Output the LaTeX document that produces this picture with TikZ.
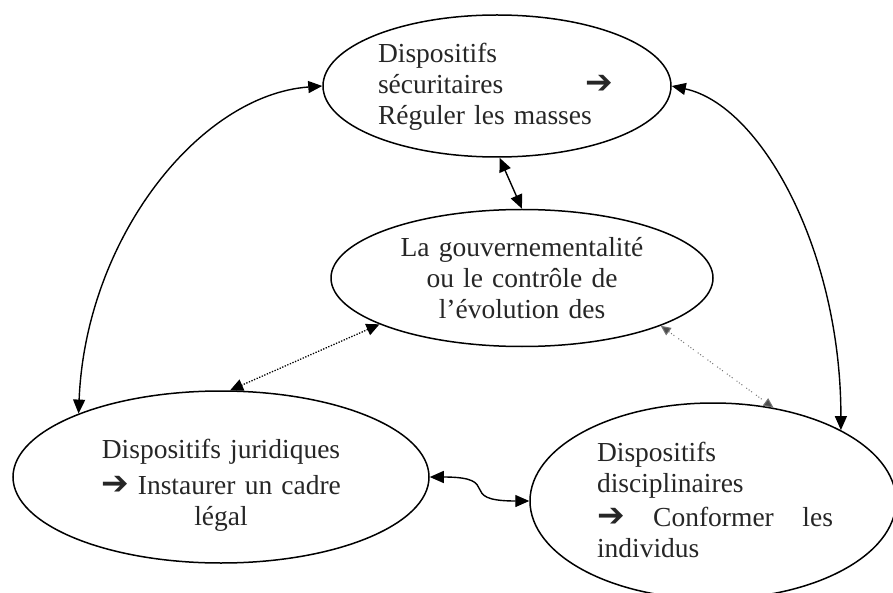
\documentclass[tikz,border=0pt]{standalone}
\usepackage{fontspec}
\setmainfont{Liberation Serif}
\newfontfamily\arrowfont{DejaVu Sans}
\newcommand{\bigarr}{{\arrowfont\fontsize{33}{31}\selectfont ➔}}
\usetikzlibrary{arrows.meta,shapes.geometric}
\begin{document}
\begin{tikzpicture}[x=1pt,y=-1pt,
  bubble/.style={draw, ellipse, line width=1.5pt, inner sep=0pt},
  lbl/.style={inner sep=0pt, text=black!85, font=\fontsize{27.5}{31}\selectfont},
  link/.style={line width=1.4pt, {Triangle[length=14pt,width=12pt]}-{Triangle[length=14pt,width=12pt]}},
  dotlink/.style={line width=1.3pt, dash pattern=on 1.3pt off 1.5pt, {Triangle[length=13pt,width=12pt]}-{Triangle[length=13pt,width=12pt]}},
  graylink/.style={line width=1pt, draw=black!55, dash pattern=on 1pt off 2pt on 1pt off 2pt on 1pt off 5pt, {Triangle[length=10pt,width=9pt,fill=black!70]}-{Triangle[length=10pt,width=9pt,fill=black!70]}}
]
\useasboundingbox (0,0) rectangle (893,593);
\clip (0,0) rectangle (893,593);

% ellipses
\node[bubble, minimum width=348pt, minimum height=142pt] (T) at (497,86) {};
\node[bubble, minimum width=382pt, minimum height=137pt] (C) at (522,278) {};
\node[bubble, minimum width=416pt, minimum height=172pt] (BL) at (221,477) {};
\node[bubble, minimum width=366pt, minimum height=196pt] (BR) at (713,501) {};

% texts
\node[lbl, text width=235pt, align=left] (Ttext) at (495.5,87)
  {Dispositifs\\ sécuritaires\hfill\bigarr\\ Réguler les masses};
\node[lbl, text width=270pt, align=center] (Ctext) at (522,278)
  {La gouvernementalité\\ ou le contrôle de\\ l’évolution des};
\node[lbl, text width=260pt, align=center] (BLtext) at (221,485)
  {Dispositifs juridiques\\[5pt] \bigarr\ Instaurer un cadre\\ légal};
\node[lbl, text width=236pt, align=left] (BRtext) at (715,500)
  {Dispositifs\\ disciplinaires\\[3pt] \bigarr\hfill Conformer\hfill les\\ individus};

% connectors
\draw[link] (T.180) .. controls +(-123,9) and +(7,-175) .. (BL.156);
\draw[link] (T.0) .. controls +(89,19) and +(0,-180) .. (BR.29);
\draw[link] (T.272) -- (C.90);
\draw[dotlink] (C.198) -- (BL.84);
\draw[graylink] (C.-19) -- (BR.57);
\draw[link] (BL.0) .. controls +(75,0) and +(-75,0) .. (BR.180);
\end{tikzpicture}
\end{document}
